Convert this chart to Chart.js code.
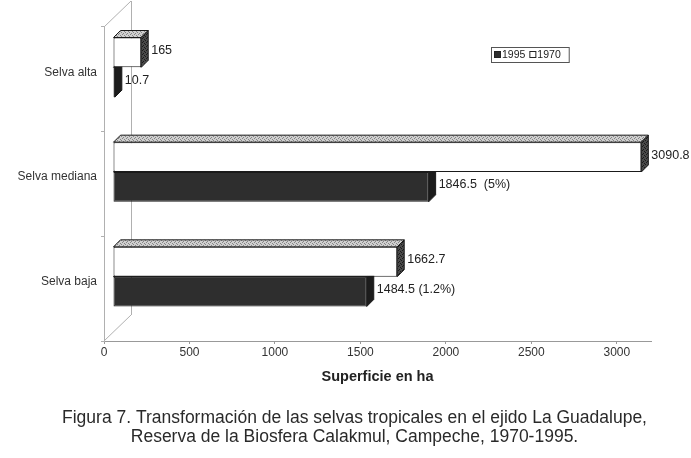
<!DOCTYPE html>
<html>
<head>
<meta charset="utf-8">
<script src="https://cdn.jsdelivr.net/npm/chart.js@4/dist/chart.umd.min.js"></script>
<style>
  html, body { margin: 0; padding: 0; background: #fff; }
  #wrap { position: relative; width: 691px; height: 458px; }
</style>
</head>
<body>
<div id="wrap"><canvas id="chart" width="691" height="458"></canvas></div>
<script>
const categories = ["Selva alta", "Selva mediana", "Selva baja"];
const series1970 = [165, 3090.8, 1662.7];
const series1995 = [10.7, 1846.5, 1484.5];
const labels1970 = ["165", "3090.8", "1662.7"];
const labels1995 = ["10.7", "1846.5  (5%)", "1484.5 (1.2%)"];
const xTickValues = [0, 500, 1000, 1500, 2000, 2500, 3000];
const xMax = 3200;
const caption = [
  "Figura 7. Transformación de las selvas tropicales en el ejido La Guadalupe,",
  "Reserva de la Biosfera Calakmul, Campeche, 1970-1995."
];

const FONT = "'Liberation Sans', Arial, sans-serif";
const shift = { x: 9, y: -12 };   // bars sit halfway into the 3d box
const depth = { x: 7, y: 7 };     // bar depth
const wall = { x: 27, y: 26 };    // box depth

function stipple(base, dot) {
  const c = document.createElement("canvas");
  c.width = 4; c.height = 4;
  const g = c.getContext("2d");
  g.fillStyle = base; g.fillRect(0, 0, 4, 4);
  g.fillStyle = dot;
  g.fillRect(0, 0, 1, 1); g.fillRect(2, 1, 1, 1); g.fillRect(1, 2, 1, 1); g.fillRect(3, 3, 1, 1);
  return g.createPattern(c, "repeat");
}

const ctx = document.getElementById("chart").getContext("2d");
const topFace = stipple("#cfcfcf", "#858585");
const sideFace = stipple("#4a4a4a", "#1a1a1a");

// box walls, 3d faces of the bars, value labels, legend and caption
const bar3d = {
  id: "bar3d",
  beforeDatasetsDraw(chart) {
    const { ctx, chartArea: a } = chart;
    ctx.save();
    ctx.strokeStyle = "#b0b0b0";
    ctx.lineWidth = 1;
    ctx.beginPath();
    ctx.moveTo(a.left + wall.x + 0.5, a.top - wall.y);
    ctx.lineTo(a.left + wall.x + 0.5, a.bottom - wall.y);
    ctx.moveTo(a.left, a.bottom);
    ctx.lineTo(a.left + wall.x, a.bottom - wall.y);
    ctx.moveTo(a.left, a.top);
    ctx.lineTo(a.left + wall.x, a.top - wall.y);
    ctx.stroke();
    ctx.restore();
  },
  beforeDatasetDraw(chart) {
    chart.ctx.save();
    chart.ctx.translate(shift.x, shift.y);
  },
  afterDatasetDraw(chart, args) {
    const { ctx } = chart;
    const dark = args.index === 1;
    args.meta.data.forEach(el => {
      const { x, y, base, height } = el.getProps(["x", "y", "base", "height"], true);
      const top = y - height / 2, bottom = y + height / 2;
      ctx.lineWidth = 1;
      ctx.strokeStyle = "#1a1a1a";
      ctx.beginPath();
      ctx.moveTo(base, top);
      ctx.lineTo(base + depth.x, top - depth.y);
      ctx.lineTo(x + depth.x, top - depth.y);
      ctx.lineTo(x, top);
      ctx.closePath();
      ctx.fillStyle = dark ? "#3a3a3a" : topFace;
      ctx.fill(); ctx.stroke();
      ctx.beginPath();
      ctx.moveTo(x, top);
      ctx.lineTo(x + depth.x, top - depth.y);
      ctx.lineTo(x + depth.x, bottom - depth.y);
      ctx.lineTo(x, bottom);
      ctx.closePath();
      ctx.fillStyle = dark ? "#1c1c1c" : sideFace;
      ctx.fill(); ctx.stroke();
    });
    ctx.restore();
  },
  afterDatasetsDraw(chart) {
    const { ctx } = chart;
    ctx.save();
    ctx.font = "12.5px " + FONT;
    ctx.fillStyle = "#222";
    ctx.textBaseline = "middle";
    ctx.textAlign = "left";
    const texts = [labels1970, labels1995];
    chart.data.datasets.forEach((ds, i) => {
      chart.getDatasetMeta(i).data.forEach((el, j) => {
        ctx.fillText(texts[i][j], el.x + shift.x + depth.x + 3, el.y + shift.y - 2);
      });
    });

    // legend: 1995 first, as in the figure
    const lx = 491, ly = 47;
    ctx.font = "10.5px " + FONT;
    const items = chart.data.datasets.slice().reverse();
    let cx = lx + 3;
    items.forEach(ds => {
      ctx.fillStyle = ds.backgroundColor;
      ctx.fillRect(cx, ly + 4, 7, 7);
      ctx.strokeStyle = "#222";
      ctx.strokeRect(cx + 0.5, ly + 4.5, 6, 6);
      cx += 8;
      ctx.fillStyle = "#222";
      ctx.fillText(ds.label, cx, ly + 8);
      cx += ctx.measureText(ds.label).width + 4;
    });
    ctx.strokeStyle = "#555";
    ctx.strokeRect(lx + 0.5, ly + 0.5, cx - lx + 4, 15);

    // figure caption
    ctx.font = "17.5px " + FONT;
    ctx.fillStyle = "#2a2a2a";
    ctx.textAlign = "center";
    caption.forEach((line, i) => ctx.fillText(line, 354.5, 418 + i * 19));
    ctx.restore();
  }
};

new Chart(ctx, {
  type: "bar",
  data: {
    labels: categories,
    datasets: [
      { label: "1970", data: series1970, backgroundColor: "#ffffff", borderColor: "#1a1a1a",
        borderWidth: 1, borderSkipped: false },
      { label: "1995", data: series1995, backgroundColor: "#2e2e2e", borderColor: "#1a1a1a",
        borderWidth: 1, borderSkipped: false }
    ]
  },
  options: {
    indexAxis: "y",
    responsive: false,
    animation: false,
    categoryPercentage: 0.57,
    barPercentage: 1,
    layout: { padding: { top: 27, right: 40, bottom: 72, left: 0 } },
    plugins: {
      legend: { display: false },
      tooltip: { enabled: false }
    },
    scales: {
      x: {
        min: 0,
        max: xMax,
        afterFit: s => { s.height = 45; },
        afterBuildTicks: s => { s.ticks = xTickValues.map(v => ({ value: v })); },
        ticks: { padding: 1, color: "#333", font: { family: FONT, size: 12 },
                 callback: v => String(v) },
        grid: { drawOnChartArea: false, tickLength: 3, color: "#999" },
        border: { color: "#999" },
        title: { display: true, text: "Superficie en ha", color: "#222",
                 font: { family: FONT, size: 14.5, weight: "bold" }, padding: { top: 0, bottom: 0 } }
      },
      y: {
        afterFit: s => { s.width = 104; },
        ticks: { padding: 4, labelOffset: -7, color: "#333", font: { family: FONT, size: 12 } },
        grid: { drawOnChartArea: false, tickLength: 3, color: "#b0b0b0" },
        border: { color: "#b0b0b0" }
      }
    }
  },
  plugins: [bar3d]
});
</script>
</body>
</html>
